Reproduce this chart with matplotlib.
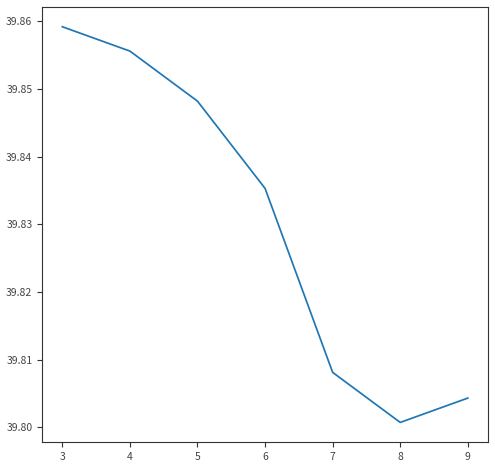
import matplotlib
matplotlib.use('Agg')
import matplotlib.pyplot as plt

plt.rcParams['font.family'] = ['Noto Sans CJK KR', 'DejaVu Sans']

# values
x_vals = [3, 4, 5, 6, 7, 8, 9]
y_vals = [39.8592, 39.8556, 39.8482, 39.8353, 39.8081, 39.8007, 39.8043]

fig = plt.figure(figsize=(4.95, 4.65), dpi=100)
ax = fig.add_axes([0.085, 0.049, 0.901, 0.936])
ax.plot(x_vals, y_vals, color='#1f77b4', linewidth=1.25)

ax.set_yticks([39.80, 39.81, 39.82, 39.83, 39.84, 39.85, 39.86])
ax.set_yticklabels(['39.80', '39.81', '39.82', '39.83', '39.84', '39.85', '39.86'])
ax.tick_params(labelsize=7.5, colors='#333333', labelcolor='#444444', length=3.5)
for s in ax.spines.values():
    s.set_color('#333333')

fig.savefig('out.png', dpi=100)
